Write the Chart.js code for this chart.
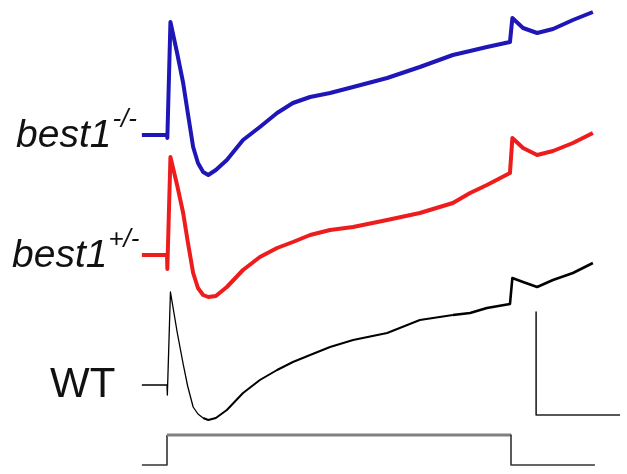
<!DOCTYPE html>
<html><head><meta charset="utf-8">
<script src="https://cdn.jsdelivr.net/npm/chart.js@4/dist/chart.umd.min.js"></script>
<style>html,body{margin:0;padding:0;background:#fff}canvas{display:block}</style>
</head><body>
<canvas id="c" width="627" height="474"></canvas>
<script>
// time (s), stimulus from 0 to 10 s
const time = [-0.73, 0, 0.01, 0.1, 0.3, 0.47, 0.6, 0.76, 0.9, 1.05, 1.2, 1.42, 1.74, 2.21, 2.70, 3.20, 3.66, 4.16, 4.74, 5.41, 6.40, 7.35, 8.31, 8.81, 9.30, 9.97, 10.04, 10.35, 10.76, 11.22, 11.80, 12.38];
// amplitudes relative to each trace's baseline (arbitrary units)
const best1KO  = [0, 0, -3, 113, 81, 52, 23, -12, -28, -37, -40, -35, -25, -5, 8, 22, 32, 38, 42, 48, 57, 68, 80, 84, 88, 93, 117, 107, 102, 106, 115, 123];
const best1Het = [0, 0, -14, 98, 69, 42, 14, -18, -33, -40, -42, -41, -32, -15, -2, 7, 13, 20, 25, 28, 35, 42, 52, 62, 70, 82, 117, 107, 100, 104, 112, 122];
const wildType = [0, 0, -10, 93, 52, 21, -1, -22, -29, -33, -35, -33, -25, -8, 5, 15, 23, 30, 38, 45, 52, 65, 70, 72, 77, 81, 107, 103, 98, 105, 112, 122];
// light stimulus (off = 0, on = 1)
const stimTime  = [-0.73, 0, 0, 10, 10, 12.44];
const stimLevel = [0, 0, 1, 1, 0, 0];
// scale bar size
const scaleBarAmp = 103;
const scaleBarTime = 2.44;
const labels = ['best1', 'best1', 'WT'];
const supers = ['-/-', '+/-', ''];

// layout constants
const OFF = [339, 219, 89];
const STIM_OFF = 9, STIM_H = 30;
const SB_T = 10.73, SB_Y = 59;

function pts(t, v, off, k) { return t.map((x, i) => ({x: x, y: off + v[i] * (k || 1)})); }

const ds = [
  {data: pts(time, best1KO, OFF[0]), borderColor: '#1f16b8', borderWidth: 4},
  {data: pts(time, best1Het, OFF[1]), borderColor: '#ee1d1d', borderWidth: 4},
  {data: pts(time, wildType, OFF[2]), borderColor: '#000000', borderWidth: 2,
   segment: {borderWidth: c => c.p0.parsed.x < 1.0 ? 1.3 : (c.p0.parsed.x < 8 ? 2 : 2.6)}},
  {data: pts(stimTime, stimLevel, STIM_OFF, STIM_H), borderColor: '#333333', borderWidth: 1.6,
   segment: {
     borderColor: c => (c.p0.raw.y > STIM_OFF && c.p1.raw.y > STIM_OFF) ? '#808080' : '#333333',
     borderWidth: c => (c.p0.raw.y > STIM_OFF && c.p1.raw.y > STIM_OFF) ? 3 : 1.6
   }},
  {data: [{x: SB_T, y: SB_Y + scaleBarAmp}, {x: SB_T, y: SB_Y}, {x: SB_T + scaleBarTime, y: SB_Y}], borderColor: '#222', borderWidth: 1.6}
];
ds.forEach(d => { d.pointRadius = 0; d.fill = false; d.tension = 0; d.borderJoinStyle = 'round'; d.borderCapStyle = 'butt'; });

const labelPlugin = {
  id: 'labels',
  afterDatasetsDraw(chart) {
    const ctx = chart.ctx, y = chart.scales.y;
    ctx.save();
    ctx.fillStyle = '#111';
    ctx.textAlign = 'left';
    ctx.textBaseline = 'alphabetic';
    const lefts = [16, 12, 50];
    for (let i = 0; i < 3; i++) {
      const base = y.getPixelForValue(OFF[i]) + 12;
      if (i < 2) {
        ctx.font = 'italic 39px "Liberation Sans", Arial, sans-serif';
        ctx.fillText(labels[i], lefts[i], base);
        const w = ctx.measureText(labels[i]).width;
        ctx.font = 'italic 26px "Liberation Sans", Arial, sans-serif';
        ctx.fillText(supers[i], lefts[i] + w + 1, base - 20);
      } else {
        ctx.font = '42px "Liberation Sans", Arial, sans-serif';
        ctx.fillText(labels[i], lefts[i], base);
      }
    }
    ctx.restore();
  }
};

new Chart(document.getElementById('c'), {
  type: 'line',
  data: {datasets: ds},
  options: {
    responsive: false, animation: false,
    layout: {padding: 0},
    plugins: {legend: {display: false}, tooltip: {enabled: false}},
    scales: {
      x: {type: 'linear', min: -167 / 34.4, max: 460 / 34.4, display: false},
      y: {type: 'linear', min: 0, max: 474, display: false}
    }
  },
  plugins: [labelPlugin]
});
</script>
</body></html>
